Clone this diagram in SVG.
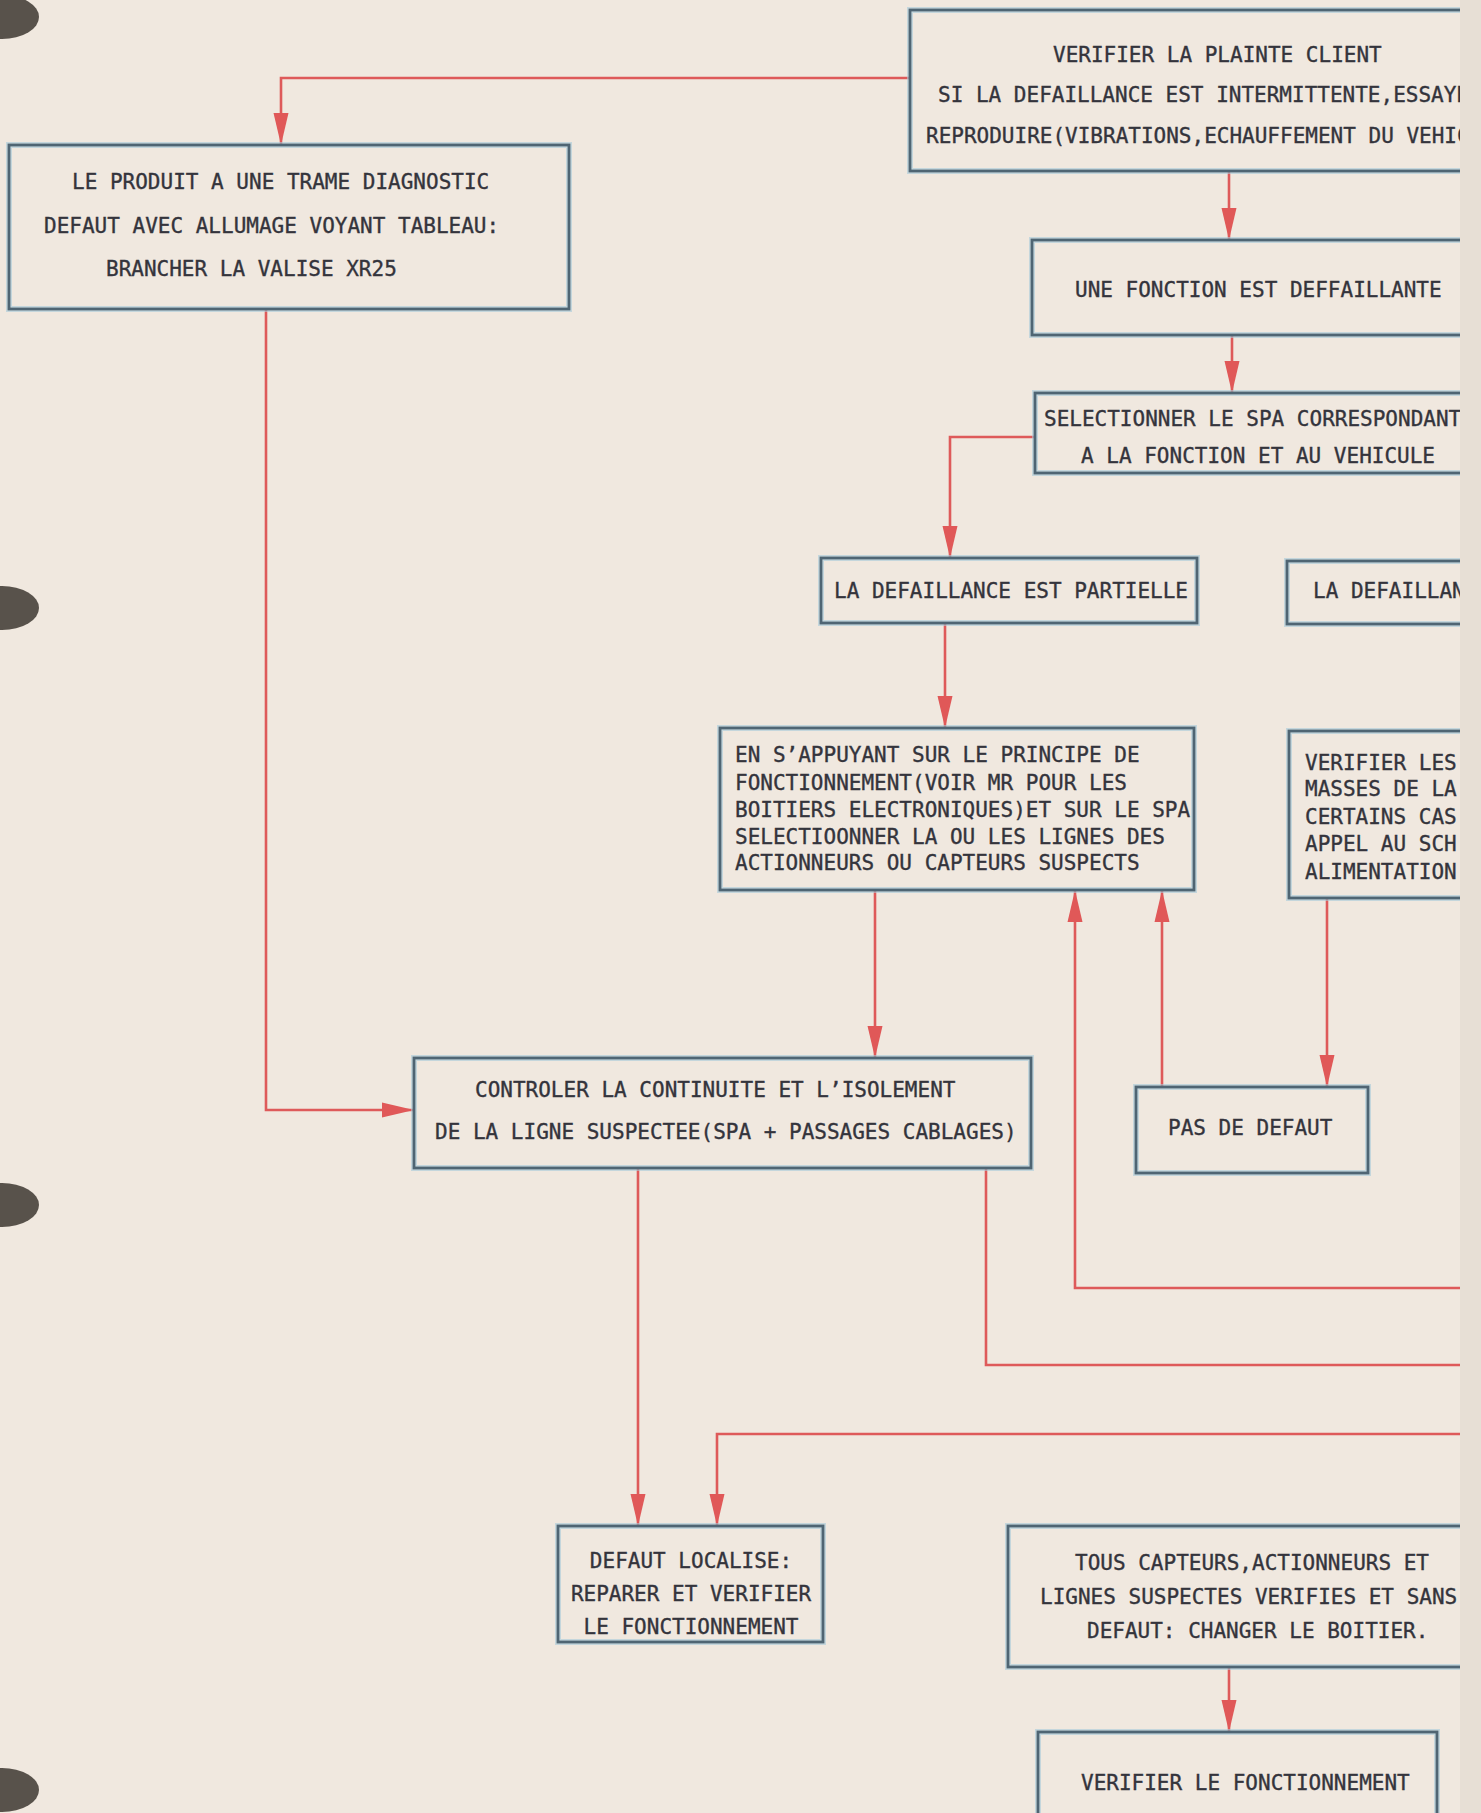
<svg xmlns="http://www.w3.org/2000/svg" width="1481" height="1813" viewBox="0 0 1481 1813">
<style>
.bg{fill:#f0e8df}
.strip{fill:#e7dfd5}
.hole{fill:#58524b}
.halo{fill:none;stroke:#a6cadb;stroke-width:6;opacity:0.6}
.box{fill:none;stroke:#4f6573;stroke-width:2.8}
.t{font-family:"DejaVu Sans Mono","Liberation Mono",monospace;font-size:21px;fill:#34343c;stroke:#34343c;stroke-width:0.35}
.c{text-anchor:middle}
.ln{fill:none;stroke:#de5a5a;stroke-width:2.6}
</style>
<defs>
<marker id="ah" viewBox="0 0 32 16" refX="32" refY="8" markerWidth="32" markerHeight="16" markerUnits="userSpaceOnUse" orient="auto">
<path d="M0,0.5 L32,8 L0,15.5 Z" fill="#e05858"/>
</marker>
<clipPath id="page"><rect x="0" y="0" width="1460" height="1813"/></clipPath>
</defs>
<rect class="bg" x="0" y="0" width="1481" height="1813"/>
<g clip-path="url(#page)">
<g id="connectors">
<path class="ln" d="M910,78 H281 V145" marker-end="url(#ah)"/>
<path class="ln" d="M266,309 V1110 H414" marker-end="url(#ah)"/>
<path class="ln" d="M1229,171 V240" marker-end="url(#ah)"/>
<path class="ln" d="M1232,335 V393" marker-end="url(#ah)"/>
<path class="ln" d="M1035,437 H950 V558" marker-end="url(#ah)"/>
<path class="ln" d="M945,623 V728" marker-end="url(#ah)"/>
<path class="ln" d="M875,890 V1058" marker-end="url(#ah)"/>
<path class="ln" d="M1327,898 V1087" marker-end="url(#ah)"/>
<path class="ln" d="M1162,1087 V890" marker-end="url(#ah)"/>
<path class="ln" d="M1470,1288 H1075 V890" marker-end="url(#ah)"/>
<path class="ln" d="M986,1168 V1365 H1470"/>
<path class="ln" d="M638,1168 V1526" marker-end="url(#ah)"/>
<path class="ln" d="M1470,1434 H717 V1526" marker-end="url(#ah)"/>
<path class="ln" d="M1229,1667 V1732" marker-end="url(#ah)"/>
</g>
<g id="n-plainte">
<rect class="halo" x="910" y="10" width="700" height="161"/>
<rect class="box" x="910" y="10" width="700" height="161"/>
<text class="t" x="1053" y="62">VERIFIER LA PLAINTE CLIENT</text>
<text class="t" x="938" y="102">SI LA DEFAILLANCE EST INTERMITTENTE,ESSAYE</text>
<text class="t" x="926" y="143">REPRODUIRE(VIBRATIONS,ECHAUFFEMENT DU VEHIC</text>
</g>
<g id="n-produit">
<rect class="halo" x="9" y="145" width="560" height="164"/>
<rect class="box" x="9" y="145" width="560" height="164"/>
<text class="t" x="72" y="189">LE PRODUIT A UNE TRAME DIAGNOSTIC</text>
<text class="t" x="44" y="233">DEFAUT AVEC ALLUMAGE VOYANT TABLEAU:</text>
<text class="t" x="106" y="276">BRANCHER LA VALISE XR25</text>
</g>
<g id="n-fonction">
<rect class="halo" x="1032" y="240" width="600" height="95"/>
<rect class="box" x="1032" y="240" width="600" height="95"/>
<text class="t" x="1075" y="297">UNE FONCTION EST DEFFAILLANTE</text>
</g>
<g id="n-spa">
<rect class="halo" x="1035" y="393" width="600" height="80"/>
<rect class="box" x="1035" y="393" width="600" height="80"/>
<text class="t" x="1044" y="426">SELECTIONNER LE SPA CORRESPONDANT</text>
<text class="t" x="1081" y="463">A LA FONCTION ET AU VEHICULE</text>
</g>
<g id="n-partielle">
<rect class="halo" x="821" y="558" width="376" height="65"/>
<rect class="box" x="821" y="558" width="376" height="65"/>
<text class="t" x="834" y="598">LA DEFAILLANCE EST PARTIELLE</text>
</g>
<g id="n-totale">
<rect class="halo" x="1287" y="561" width="300" height="63"/>
<rect class="box" x="1287" y="561" width="300" height="63"/>
<text class="t" x="1313" y="598">LA DEFAILLAN</text>
</g>
<g id="n-principe">
<rect class="halo" x="720" y="728" width="474" height="162"/>
<rect class="box" x="720" y="728" width="474" height="162"/>
<text class="t" x="735" y="762">EN S’APPUYANT SUR LE PRINCIPE DE</text>
<text class="t" x="735" y="790">FONCTIONNEMENT(VOIR MR POUR LES</text>
<text class="t" x="735" y="817">BOITIERS ELECTRONIQUES)ET SUR LE SPA</text>
<text class="t" x="735" y="844">SELECTIOONNER LA OU LES LIGNES DES</text>
<text class="t" x="735" y="870">ACTIONNEURS OU CAPTEURS SUSPECTS</text>
</g>
<g id="n-masses">
<rect class="halo" x="1289" y="731" width="300" height="167"/>
<rect class="box" x="1289" y="731" width="300" height="167"/>
<text class="t" x="1305" y="770">VERIFIER LES</text>
<text class="t" x="1305" y="796">MASSES DE LA</text>
<text class="t" x="1305" y="824">CERTAINS CAS</text>
<text class="t" x="1305" y="851">APPEL AU SCH</text>
<text class="t" x="1305" y="879">ALIMENTATION</text>
</g>
<g id="n-controler">
<rect class="halo" x="414" y="1058" width="617" height="110"/>
<rect class="box" x="414" y="1058" width="617" height="110"/>
<text class="t" x="475" y="1097">CONTROLER LA CONTINUITE ET L’ISOLEMENT</text>
<text class="t" x="435" y="1139">DE LA LIGNE SUSPECTEE(SPA + PASSAGES CABLAGES)</text>
</g>
<g id="n-pasdefaut">
<rect class="halo" x="1136" y="1087" width="232" height="86"/>
<rect class="box" x="1136" y="1087" width="232" height="86"/>
<text class="t" x="1168" y="1135">PAS DE DEFAUT</text>
</g>
<g id="n-localise">
<rect class="halo" x="558" y="1526" width="265" height="116"/>
<rect class="box" x="558" y="1526" width="265" height="116"/>
<text class="t c" x="691" y="1568">DEFAUT LOCALISE:</text>
<text class="t c" x="691" y="1601">REPARER ET VERIFIER</text>
<text class="t c" x="691" y="1634">LE FONCTIONNEMENT</text>
</g>
<g id="n-boitier">
<rect class="halo" x="1008" y="1526" width="600" height="141"/>
<rect class="box" x="1008" y="1526" width="600" height="141"/>
<text class="t" x="1075" y="1570">TOUS CAPTEURS,ACTIONNEURS ET</text>
<text class="t" x="1040" y="1604">LIGNES SUSPECTES VERIFIES ET SANS</text>
<text class="t" x="1087" y="1638">DEFAUT: CHANGER LE BOITIER.</text>
</g>
<g id="n-verifier">
<rect class="halo" x="1038" y="1732" width="399" height="120"/>
<rect class="box" x="1038" y="1732" width="399" height="120"/>
<text class="t" x="1081" y="1790">VERIFIER LE FONCTIONNEMENT</text>
</g>
</g>
<rect class="strip" x="1460" y="0" width="21" height="1813"/>
<g id="holes">
<ellipse class="hole" cx="2" cy="17" rx="37" ry="22"/>
<ellipse class="hole" cx="2" cy="608" rx="37" ry="22"/>
<ellipse class="hole" cx="2" cy="1205" rx="37" ry="22"/>
<ellipse class="hole" cx="2" cy="1790" rx="37" ry="22"/>
</g>
</svg>
